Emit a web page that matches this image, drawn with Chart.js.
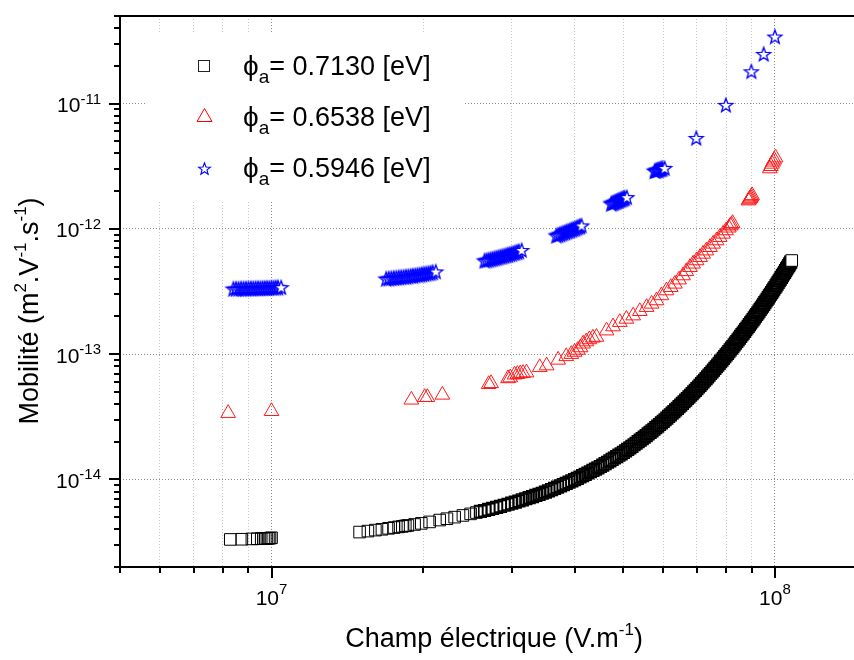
<!DOCTYPE html>
<html>
<head>
<meta charset="utf-8">
<script src="https://cdn.jsdelivr.net/npm/chart.js@4.4.1/dist/chart.umd.min.js"></script>
<style>
  html, body { margin: 0; padding: 0; background: #fff; }
  #chart { display: block; }
</style>
</head>
<body>
<canvas id="chart" width="854" height="660"></canvas>
<script>
// champ electrique in MV/m (x 1e6), mobilite scaled per series
var blackField = [8.28, 8.73, 9.14, 9.37, 9.54, 9.64, 9.72, 9.79, 9.86, 9.93, 10.0,
    14.96, 15.54, 16.08, 16.57, 17.08, 17.51, 17.88, 18.19, 18.44, 18.66, 19.24, 19.84, 20.61, 21.58, 22.31, 23.11, 24.00, 24.86, 25.53,
    26, 26.5, 27, 27.5, 28, 28.5, 29, 29.5, 30, 30.5, 31, 31.5, 32, 32.5, 33, 33.5, 34, 34.5, 35, 35.5,
    36, 36.5, 37, 37.5, 38, 38.5, 39, 39.5, 40, 40.5, 41, 41.5, 42, 42.5, 43, 43.5, 44, 44.5, 45, 45.5,
    46, 46.5, 47, 47.5, 48, 48.5, 49, 49.5, 50, 50.5, 51, 51.5, 52, 52.5, 53, 53.5, 54, 54.5, 55, 55.5,
    56, 56.5, 57, 57.5, 58, 58.5, 59, 59.5, 60, 60.5, 61, 61.5, 62, 62.5, 63, 63.5, 64, 64.5, 65, 65.5,
    66, 66.5, 67, 67.5, 68, 68.5, 69, 69.5, 70, 70.5, 71, 71.5, 72, 72.5, 73, 73.5, 74, 74.5, 75, 75.5,
    76, 76.5, 77, 77.5, 78, 78.5, 79, 79.5, 80, 80.5, 81, 81.5, 82, 82.5, 83, 83.5, 84, 84.5, 85, 85.5,
    86, 86.5, 87, 87.5, 88, 88.5, 89, 89.5, 90, 90.5, 91, 91.5, 92, 92.5, 93, 93.5, 94, 94.5, 95, 95.5,
    96, 96.5, 97, 97.5, 98, 98.5, 99, 99.5, 100, 100.5, 101, 101.5, 102, 102.5, 103, 103.5, 104, 104.5, 105, 105.5,
    106, 106.5, 107, 107.5, 108];
// x 1e-15
var blackMob = [3.32, 3.33, 3.35, 3.36, 3.37, 3.37, 3.38, 3.38, 3.39, 3.40, 3.42,
    3.80, 3.87, 3.94, 4.00, 4.07, 4.13, 4.18, 4.22, 4.26, 4.29, 4.37, 4.46, 4.58, 4.74, 4.86, 5.00, 5.16, 5.31, 5.44,
    5.55, 5.65, 5.76, 5.87, 5.98, 6.10, 6.22, 6.34, 6.46, 6.59, 6.73, 6.87, 7.01, 7.15, 7.30, 7.45, 7.61, 7.76, 7.92, 8.11,
    8.30, 8.49, 8.69, 8.89, 9.10, 9.31, 9.53, 9.75, 9.97, 10.21, 10.46, 10.72, 10.98, 11.25, 11.52, 11.80, 12.08, 12.38, 12.68, 13.01,
    13.35, 13.71, 14.07, 14.44, 14.82, 15.21, 15.61, 16.02, 16.44, 16.91, 17.39, 17.88, 18.39, 18.91, 19.45, 20.01, 20.58, 21.16, 21.76, 22.40,
    23.06, 23.74, 24.44, 25.15, 25.89, 26.65, 27.44, 28.25, 29.08, 29.96, 30.87, 31.81, 32.78, 33.78, 34.82, 35.88, 36.97, 38.09, 39.25, 40.45,
    41.68, 42.95, 44.26, 45.60, 46.99, 48.42, 49.90, 51.42, 52.98, 54.65, 56.38, 58.15, 59.98, 61.87, 63.81, 65.82, 67.90, 70.04, 72.24, 74.52,
    76.86, 79.28, 81.78, 84.35, 87.0, 89.74, 92.58, 95.49, 98.5, 101.6, 104.8, 108.1, 111.5, 115.0, 118.6, 122.3, 126.2, 130.2, 134.3, 138.5,
    142.9, 147.4, 152.0, 156.8, 161.7, 166.8, 172.1, 177.5, 183.1, 188.9, 194.8, 200.9, 207.2, 213.7, 220.5, 227.4, 234.6, 242.0, 249.6, 257.5,
    265.6, 274.0, 282.6, 291.5, 300.7, 310.2, 320.0, 330.0, 340.4, 351.1, 362.1, 373.5, 385.3, 397.4, 409.9, 422.8, 436.1, 449.9, 464.1, 478.7,
    493.7, 509.3, 525.3, 541.9, 558.9];

var redField = [8.2, 10.0, 18.96, 20.15, 20.4, 21.85, 27.0, 27.3, 29.5, 29.8,
    30.4, 30.8, 31.2, 31.6, 32.1, 34.1, 35.2, 37.1, 38.5, 39.4, 40.0, 40.6, 41.1, 41.6,
    42.2, 42.8, 43.5, 44.2, 46.3, 47.7, 49.2, 50.7, 52.3, 53.9, 55.6, 56.9, 58.2, 59.5,
    60.9, 62.1, 63.3, 64.5, 65.7, 66.7, 67.8, 68.8, 69.9, 71.0, 72.0, 73.1, 74.3, 75.4,
    76.6, 77.7, 78.9, 80.0, 81.0, 81.6, 82.0, 82.4,
    88.6, 88.9, 89.2, 89.5, 89.8, 90.1, 97.7, 98.2, 98.7, 99.2, 99.7, 100.3];
// x 1e-14
var redMob = [3.38, 3.50, 4.32, 4.53, 4.53, 4.73, 5.75, 5.85, 6.40, 6.50,
    6.85, 6.92, 7.00, 7.05, 7.12, 7.85, 8.10, 9.00, 9.60, 10.0, 10.4, 10.8, 11.3, 12.1,
    12.6, 13.1, 13.5, 13.7, 15.4, 16.6, 18.0, 19.1, 20.3, 22.0, 23.7, 25.2, 26.8, 29.4,
    32.2, 34.2, 36.4, 39.3, 42.4, 45.8, 49.4, 52.6, 55.9, 59.4, 63.1, 67.0, 71.3, 75.9,
    80.7, 85.8, 91.2, 97.0, 102, 106, 108, 111,
    168, 171, 174, 177, 181, 185, 303, 316, 330, 343, 356, 370];

var blueField = [8.4, 8.5, 8.6, 8.7, 8.8, 8.9, 9.0, 9.1, 9.2, 9.3, 9.4, 9.5, 9.6, 9.7, 9.8, 9.9, 10.0, 10.1, 10.2, 10.3, 10.45,
    16.9, 17.1, 17.3, 17.5, 17.7, 17.9, 18.1, 18.3, 18.5, 18.7, 18.9, 19.1, 19.3, 19.5, 19.7, 19.9, 20.1, 20.3, 20.5, 20.7, 20.9, 21.2,
    26.5, 26.75, 27.0, 27.25, 27.5, 27.75, 28.0, 28.25, 28.5, 28.75, 29.0, 29.25, 29.5, 29.75, 30.0, 30.25, 30.5, 30.75, 31.0, 31.4,
    36.8, 37.1, 37.4, 37.7, 38.0, 38.3, 38.6, 38.9, 39.2, 39.5, 39.8, 40.1, 40.4, 40.7, 41.0, 41.3,
    47.3, 47.55, 47.8, 48.05, 48.3, 48.55, 48.8, 49.05, 49.3, 49.55, 49.8, 50.05, 50.3, 50.8,
    57.7, 58.0, 58.3, 58.6, 58.9, 59.2, 59.5, 59.8, 60.4,
    69.8, 79.9, 89.8, 95.0, 100.0];
// x 1e-13
var blueMob = [3.33, 3.33, 3.33, 3.34, 3.34, 3.34, 3.35, 3.35, 3.35, 3.36, 3.36, 3.36, 3.37, 3.37, 3.38, 3.38, 3.39, 3.39, 3.40, 3.41, 3.42,
    4.00, 4.02, 4.04, 4.06, 4.08, 4.10, 4.12, 4.14, 4.16, 4.18, 4.21, 4.23, 4.26, 4.29, 4.31, 4.34, 4.37, 4.40, 4.43, 4.46, 4.51, 4.57,
    5.58, 5.62, 5.67, 5.72, 5.77, 5.82, 5.88, 5.93, 5.99, 6.04, 6.10, 6.16, 6.22, 6.28, 6.34, 6.41, 6.48, 6.55, 6.62, 6.78,
    8.85, 8.96, 9.07, 9.18, 9.29, 9.40, 9.52, 9.63, 9.75, 9.87, 9.99, 10.1, 10.25, 10.38, 10.5, 10.64,
    15.9, 16.05, 16.2, 16.35, 16.5, 16.65, 16.8, 16.95, 17.1, 17.25, 17.4, 17.55, 17.7, 17.9,
    29.0, 29.2, 29.4, 29.6, 29.8, 30.0, 30.2, 30.4, 30.6,
    53.2, 97.7, 181, 249, 343];

var seriesLabels = ['0.7130', '0.6538', '0.5946'];

var xTickValues = [5e6, 6e6, 7e6, 8e6, 9e6, 1e7, 2e7, 3e7, 4e7, 5e7, 6e7, 7e7, 8e7, 9e7, 1e8];
var yTickValues = [2e-15, 3e-15, 4e-15, 5e-15, 6e-15, 7e-15, 8e-15, 9e-15,
    1e-14, 2e-14, 3e-14, 4e-14, 5e-14, 6e-14, 7e-14, 8e-14, 9e-14,
    1e-13, 2e-13, 3e-13, 4e-13, 5e-13, 6e-13, 7e-13, 8e-13, 9e-13,
    1e-12, 2e-12, 3e-12, 4e-12, 5e-12, 6e-12, 7e-12, 8e-12, 9e-12,
    1e-11, 2e-11, 3e-11, 4e-11, 5e-11];
var xDecades = [1e7, 1e8];
var xDecadeExps = ['7', '8'];
var yDecades = [1e-14, 1e-13, 1e-12, 1e-11];
var yDecadeExps = ['-14', '-13', '-12', '-11'];

var FONT = '"Liberation Sans", Arial, sans-serif';

function toPoints(fields, mobs, scale) {
    return fields.map(function (e, i) {
        return { x: e * 1e6, y: mobs[i] * scale };
    });
}

function isDecade(v) {
    var l = Math.log10(v);
    return Math.abs(l - Math.round(l)) < 1e-6;
}

// last point of a run of close points gets a white face, like the original plot
function isRunEnd(fields, i) {
    return i === fields.length - 1 || fields[i + 1] / fields[i] > 1.04;
}

function makeStar(outer, inner, lw, fill) {
    var size = Math.ceil(outer * 2 + lw * 2 + 2);
    var c = document.createElement('canvas');
    c.width = size;
    c.height = size;
    var g = c.getContext('2d');
    g.translate(size / 2, size / 2 + outer * 0.1);
    g.beginPath();
    for (var i = 0; i < 10; i++) {
        var r = i % 2 ? inner : outer;
        var a = -Math.PI / 2 + i * Math.PI / 5;
        g.lineTo(r * Math.cos(a), r * Math.sin(a));
    }
    g.closePath();
    if (fill) {
        g.fillStyle = '#fff';
        g.fill();
    }
    g.strokeStyle = '#0000ff';
    g.lineWidth = lw;
    g.stroke();
    return c;
}

var starOpen = makeStar(7.3, 3.0, 1.5, false);
var starWhite = makeStar(7.3, 3.0, 1.3, true);
var starLegend = makeStar(6.2, 2.6, 1.1, true);

// text with sub/superscripts, parts = [{text, size, dy}]
function drawParts(ctx, parts, x, y, align) {
    var total = 0;
    parts.forEach(function (p) {
        ctx.font = p.size + 'px ' + FONT;
        p.w = ctx.measureText(p.text).width;
        total += p.w;
    });
    var cx = x;
    if (align === 'center') cx = x - total / 2;
    if (align === 'right') cx = x - total;
    ctx.textAlign = 'left';
    ctx.textBaseline = 'alphabetic';
    parts.forEach(function (p) {
        ctx.font = p.size + 'px ' + FONT;
        ctx.fillText(p.text, cx, y + (p.dy || 0));
        cx += p.w;
    });
}

function drawLegend(chart) {
    var ctx = chart.ctx;
    ctx.save();
    ctx.fillStyle = '#fff';
    ctx.fillRect(145, 33, 320, 167);

    var rows = [66, 117, 168];
    // square
    ctx.lineWidth = 1;
    ctx.strokeStyle = '#222';
    ctx.strokeRect(198.5, 60.5, 11, 11);
    // triangle
    ctx.strokeStyle = '#ff0000';
    ctx.beginPath();
    ctx.moveTo(204.5, 108.5);
    ctx.lineTo(212, 121.5);
    ctx.lineTo(197, 121.5);
    ctx.closePath();
    ctx.stroke();
    // star
    ctx.drawImage(starLegend, Math.round(204.5 - starLegend.width / 2), Math.round(168 - starLegend.height / 2));

    ctx.fillStyle = '#000';
    seriesLabels.forEach(function (lab, i) {
        var base = rows[i] + 9;
        drawParts(ctx, [
            { text: '\u03D5', size: 28 },
            { text: 'a', size: 19, dy: 8 },
            { text: '= ' + lab + ' [eV]', size: 27 }
        ], 243, base, 'left');
    });
    ctx.restore();
}

function drawAxes(chart) {
    var ctx = chart.ctx;
    var a = chart.chartArea;
    var xs = chart.scales.x;
    var ys = chart.scales.y;
    ctx.save();
    ctx.strokeStyle = '#000';
    ctx.lineWidth = 2;
    ctx.beginPath();
    ctx.moveTo(a.left, a.top);
    ctx.lineTo(a.right, a.top);
    ctx.moveTo(a.left, a.top - 1);
    ctx.lineTo(a.left, a.bottom + 1);
    ctx.moveTo(a.left - 1, a.bottom);
    ctx.lineTo(a.right, a.bottom);
    ctx.stroke();

    // tick marks, outside
    ctx.beginPath();
    xTickValues.forEach(function (v) {
        var px = Math.round(xs.getPixelForValue(v));
        var len = isDecade(v) ? 11 : 6;
        ctx.moveTo(px, a.bottom);
        ctx.lineTo(px, a.bottom + len);
    });
    yTickValues.forEach(function (v) {
        var py = Math.round(ys.getPixelForValue(v));
        var len = isDecade(v) ? 11 : 6;
        ctx.moveTo(a.left, py);
        ctx.lineTo(a.left - len, py);
    });
    ctx.stroke();

    ctx.fillStyle = '#000';
    xDecades.forEach(function (v, i) {
        var px = xs.getPixelForValue(v);
        drawParts(ctx, [
            { text: '10', size: 21 },
            { text: xDecadeExps[i], size: 15, dy: -11 }
        ], px, 605, 'center');
    });
    yDecades.forEach(function (v, i) {
        var py = ys.getPixelForValue(v);
        drawParts(ctx, [
            { text: '10', size: 21 },
            { text: yDecadeExps[i], size: 15, dy: -8.5 }
        ], 101, py + 8.5, 'right');
    });

    // axis titles
    drawParts(ctx, [
        { text: 'Champ \u00e9lectrique (V.m', size: 27 },
        { text: '-1', size: 17, dy: -12 },
        { text: ')', size: 27 }
    ], 494, 647, 'center');

    ctx.translate(38, 311);
    ctx.rotate(-Math.PI / 2);
    drawParts(ctx, [
        { text: 'Mobilit\u00e9 (m', size: 27 },
        { text: '2', size: 17, dy: -12 },
        { text: '.V', size: 27 },
        { text: '-1', size: 17, dy: -12 },
        { text: '.s', size: 27 },
        { text: '-1', size: 17, dy: -12 },
        { text: ')', size: 27 }
    ], 0, 0, 'center');
    ctx.restore();
}

var chartDecor = {
    id: 'chartDecor',
    beforeDatasetsDraw: function (chart) {
        drawLegend(chart);
    },
    afterDraw: function (chart) {
        drawAxes(chart);
    }
};

function setTicks(list) {
    return function (scale) {
        scale.ticks = list.map(function (v) {
            return { value: v };
        });
    };
}

var ctx = document.getElementById('chart');
var myChart = new Chart(ctx, {
    type: 'scatter',
    data: {
        datasets: [{
            label: seriesLabels[0],
            data: toPoints(blackField, blackMob, 1e-15),
            pointStyle: 'rect',
            pointRadius: 8.2,
            borderColor: '#000',
            backgroundColor: function (c) {
                return c.dataIndex === blackField.length - 1 ? '#fff' : 'rgba(255,255,255,0)';
            },
            borderWidth: function (c) {
                return blackField[c.dataIndex] > 25.6 && c.dataIndex < blackField.length - 1 ? 1.6 : 1;
            }
        }, {
            label: seriesLabels[1],
            data: toPoints(redField, redMob, 1e-14),
            pointStyle: 'triangle',
            pointRadius: 8.5,
            borderColor: '#ff1a1a',
            backgroundColor: 'rgba(255,255,255,0)',
            borderWidth: 1
        }, {
            label: seriesLabels[2],
            data: toPoints(blueField, blueMob, 1e-13),
            pointStyle: function (c) {
                return isRunEnd(blueField, c.dataIndex) ? starWhite : starOpen;
            },
            pointRadius: 7,
            borderColor: '#0000ff',
            backgroundColor: '#fff'
        }]
    },
    plugins: [chartDecor],
    options: {
        responsive: false,
        animation: false,
        devicePixelRatio: 1,
        events: [],
        layout: {
            autoPadding: false,
            padding: { left: 120, top: 16, right: 0, bottom: 93 }
        },
        plugins: {
            legend: { display: false },
            tooltip: { enabled: false }
        },
        scales: {
            x: {
                type: 'logarithmic',
                min: 5e6,
                max: 1.436e8,
                afterBuildTicks: setTicks(xTickValues),
                ticks: { display: false },
                grid: {
                    drawTicks: false,
                    lineWidth: 1,
                    color: function (c) {
                        return c.tick && isDecade(c.tick.value) ? '#8a8a8a' : '#c4c4c4';
                    }
                },
                border: { display: false, dash: [1, 2] }
            },
            y: {
                type: 'logarithmic',
                min: 2e-15,
                max: 5e-11,
                afterBuildTicks: setTicks(yTickValues),
                ticks: { display: false },
                grid: {
                    drawTicks: false,
                    lineWidth: 1,
                    color: function (c) {
                        return c.tick && isDecade(c.tick.value) ? '#8a8a8a' : 'rgba(0,0,0,0)';
                    }
                },
                border: { display: false, dash: [1, 2] }
            }
        }
    }
});
</script>
</body>
</html>
